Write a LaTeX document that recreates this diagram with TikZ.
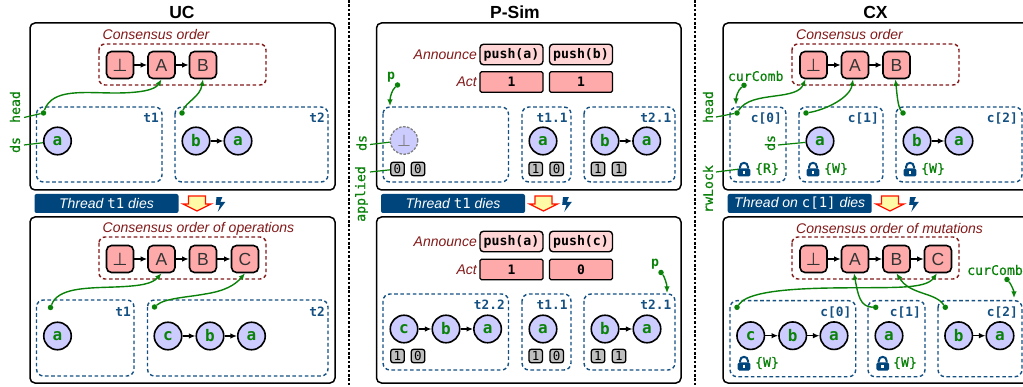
\documentclass[tikz,border=0pt]{standalone}
\usepackage{fontspec}
\setmainfont{Liberation Sans}
\setmonofont{DejaVu Sans Mono}
\newfontfamily\symfont{DejaVu Sans}
\newfontfamily\gmono[FakeBold=0.5]{DejaVu Sans Mono}
\usetikzlibrary{arrows.meta}
\definecolor{gr}{RGB}{10,130,10}
\definecolor{dred}{RGB}{130,25,25}
\definecolor{dblue}{RGB}{20,80,130}
\definecolor{navy}{RGB}{0,70,125}
\definecolor{rbox}{RGB}{255,170,170}
\definecolor{pbox}{RGB}{255,213,213}
\definecolor{cfill}{RGB}{204,204,255}
\tikzset{
 outerbox/.style={draw=black,line width=1.5pt,rounded corners=5pt},
 orderbox/.style={draw=dred,line width=1.4pt,rounded corners=6pt,dash pattern=on 3.6pt off 2.6pt},
 thr/.style={draw=dblue,line width=1.4pt,rounded corners=7pt,dash pattern=on 3.6pt off 2.6pt},
 ordn/.style={draw=black,fill=rbox,line width=1.6pt,rounded corners=5pt,minimum width=27pt,minimum height=27pt,inner sep=0pt,text=black!80,font=\fontsize{17.5}{17.5}\selectfont},
 circ/.style={circle,draw=black,fill=cfill,line width=1.6pt,minimum size=27.5pt,inner sep=0pt,text=gr,font=\fontsize{16}{16}\selectfont\ttfamily\bfseries},
 ghost/.style={circle,draw=black!50,fill=cfill,line width=1.3pt,dash pattern=on 2.5pt off 1.5pt,minimum size=27.5pt,inner sep=0pt,text=black!50,font=\fontsize{16}{16}\selectfont\symfont},
 sq/.style={draw=black,fill=black!25,line width=1.3pt,rounded corners=2.5pt,minimum size=13.5pt,inner sep=0pt,font=\fontsize{12.5}{12.5}\selectfont\ttfamily},
 ann/.style={draw=black,fill=pbox,line width=1.4pt,rounded corners=3.5pt,minimum width=63pt,minimum height=20.5pt,inner sep=0pt,font=\fontsize{13.2}{13.2}\selectfont\ttfamily\bfseries},
 actbox/.style={draw=black,fill=rbox,line width=1.4pt,rounded corners=1.5pt,minimum width=63pt,minimum height=20.5pt,inner sep=0pt,font=\fontsize{13}{13}\selectfont\ttfamily\bfseries},
 arr/.style={-{Latex[length=6.5pt,width=5.5pt]},line width=1.6pt,black},
 garr/.style={-{Latex[length=6.5pt,width=5.5pt]},line width=1.4pt,gr},
 gl/.style={gr,line width=1.2pt},
 gdot/.style={circle,fill=gr,minimum size=5.5pt,inner sep=0pt},
 glab/.style={text=gr,inner sep=0pt,font=\fontsize{13.2}{13.2}\selectfont\gmono},
 tlab/.style={text=dblue,inner sep=0pt,anchor=east,font=\fontsize{12.8}{12.8}\selectfont\ttfamily\bfseries},
 captxt/.style={text=dred,inner sep=0pt,font=\fontsize{14}{14}\selectfont\itshape},
 ttl/.style={inner sep=0pt,font=\fontsize{17.5}{17.5}\selectfont\bfseries},
 ban/.style={fill=navy,rounded corners=2pt,text=white,inner sep=0pt,minimum height=19pt,font=\fontsize{14}{14}\selectfont\itshape},
 lockp/.pic={
  \fill[navy,rounded corners=1.5pt] (-6.3,-1) rectangle (6.3,7);
  \draw[navy,line width=2pt] (-4,-1) -- (-4,-2.5) .. controls (-4,-8) and (4,-8) .. (4,-2.5) -- (4,-1);
  \fill[white] (-1.3,1.2) rectangle (1.3,4.4);
 },
 boltp/.pic={
  \fill[navy] (-3.5,-6.8) -- (2.3,-6.8) -- (0.3,-2) -- (5.3,-2) -- (-2.2,7.8) -- (0,0.8) -- (-4.3,0.8) -- cycle;
 },
 bigarr/.pic={
  \draw[draw=red!85!orange,fill=yellow!35,line width=1.3pt,line join=miter] (-8.5,-7.5) -- (8.5,-7.5) -- (8.5,0.5) -- (14,0.5) -- (0,7.5) -- (-14,0.5) -- (-8.5,0.5) -- cycle;
 }
}
\newcommand{\orderrow}[3]{% prefix, x0, y
 \node[ordn] (#1Z) at (#2,#3) {\symfont ⊥};
 \node[ordn] (#1A) at (#2+41.5,#3) {A};
 \node[ordn] (#1B) at (#2+83,#3) {B};
 \draw[arr] (#1Z) -- (#1A);
 \draw[arr] (#1A) -- (#1B);
}
\begin{document}
\begin{tikzpicture}[x=1pt,y=-1pt]
\useasboundingbox (0,0) rectangle (1023,387);
\clip (0,0) rectangle (1023,387);
\fill[white] (0,0) rectangle (1023,387);
% separators
\coordinate (s1a) at (349,0); \coordinate (s1b) at (349,387);
\coordinate (s2a) at (695,0); \coordinate (s2b) at (695,387);
\draw[line width=1.3pt,dash pattern=on 2.6pt off 1.8pt] (s1a) -- (s1b);
\draw[line width=1.3pt,dash pattern=on 2.6pt off 1.8pt] (s2a) -- (s2b);
% titles
\node[ttl] (tuc) at (182,12) {UC};
\node[ttl] (tps) at (515,12) {P-Sim};
\node[ttl] (tcx) at (875.5,12) {CX};
% outer boxes
\draw[outerbox] (30,23) rectangle (335,190);
\draw[outerbox] (30,217) rectangle (335,383);
\draw[outerbox] (376.5,23) rectangle (681,190);
\draw[outerbox] (376.5,217) rectangle (681,383);
\draw[outerbox] (723,23) rectangle (1040,190);
\draw[outerbox] (723,217) rectangle (1040,383);
% banners
\node[ban,minimum width=144pt] (b1) at (106.5,203.5) {Thread {\upshape\ttfamily t1} dies};
\node[ban,minimum width=144pt] (b2) at (453,203.5) {Thread {\upshape\ttfamily t1} dies};
\node[ban,minimum width=144pt] (b3) at (799.7,203.5) {Thread on {\upshape\ttfamily c[1]} dies};
\pic at (197,203.5) {bigarr}; \pic at (220,204) {boltp};
\pic at (543.5,203.5) {bigarr}; \pic at (566.5,204) {boltp};
\pic at (890,203.5) {bigarr}; \pic at (913.5,204) {boltp};

%%%%% UC top
\node[captxt,anchor=west] (c1) at (102.5,35) {Consensus order};
\draw[orderbox] (99,44) rectangle (266,85);
\orderrow{ua}{120}{65}
\draw[thr] (36.5,107) rectangle (162,182);
\draw[thr] (175,107) rectangle (328,182);
\node[tlab] (ut1) at (159,118) {t1};
\node[tlab] (ut2) at (325,118) {t2};
\node[circ] (uaa) at (57.5,141) {a};
\node[circ] (uab) at (196,141) {b};
\node[circ] (uac) at (238,141) {a};
\draw[arr] (uab) -- (uac);
\node[gdot] (ud1) at (43.5,113) {};
\node[gdot] (ud2) at (182,113) {};
\draw[garr] (ud1) .. controls (52,88) and (85,93) .. (115,93) .. controls (140,93) and (155,90) .. (uaA.south);
\draw[garr] (ud2) .. controls (186,102) and (200,97) .. (uaB.south);
\node[glab,rotate=90] (uh) at (15,107) {head};
\node[glab,rotate=90] (uds) at (15,145) {ds};
\coordinate (uhe) at (24,117.5); \coordinate (udse) at (24,145);
\draw[gl] (uhe) -- (ud1);
\draw[gl] (udse) -- (uaa);

%%%%% UC bottom
\node[captxt,anchor=west] (c2) at (102.5,228.5) {Consensus order of operations};
\draw[orderbox] (99,237) rectangle (266,279);
\orderrow{ub}{120}{259}
\node[ordn] (ubC) at (245,259) {C};
\draw[arr] (ubB) -- (ubC);
\draw[thr] (36.5,300) rectangle (134,376);
\draw[thr] (147.5,300) rectangle (328,376);
\node[tlab] (ubt1) at (131,312) {t1};
\node[tlab] (ubt2) at (325,312) {t2};
\node[circ] (ubaa) at (57.5,336) {a};
\node[circ] (ubc) at (168,336) {c};
\node[circ] (ubb) at (210,336) {b};
\node[circ] (uba2) at (251.5,336) {a};
\draw[arr] (ubc) -- (ubb);
\draw[arr] (ubb) -- (uba2);
\node[gdot] (ubd1) at (50.5,307.5) {};
\node[gdot] (ubd2) at (154.5,307) {};
\draw[garr] (ubd1) .. controls (58,288) and (85,288) .. (115,287) .. controls (140,286) and (152,284) .. (ubA.south);
\draw[garr] (ubd2) .. controls (165,298) and (190,297) .. (205,294) .. controls (225,291) and (235,285) .. (ubC.south);

%%%%% P-Sim top
\node[captxt,anchor=east] (pa1) at (477,54.5) {Announce};
\node[captxt,anchor=east] (pa2) at (477,82) {Act};
\node[ann] (pn1) at (511.5,54.5) {push(a)};
\node[ann] (pn2) at (581,54.5) {push(b)};
\node[actbox] (pv1) at (511.5,82) {1};
\node[actbox] (pv2) at (581,82) {1};
\draw[thr] (383,107) rectangle (508.5,182);
\draw[thr] (522,107) rectangle (571,182);
\draw[thr] (584,107) rectangle (675,182);
\node[tlab] (pt1) at (567.7,118) {t1.1};
\node[tlab] (pt2) at (671.5,118) {t2.1};
\node[ghost] (pg) at (404,140.5) {⊥};
\node[circ] (pa) at (543,141) {a};
\node[circ] (pb) at (605,141) {b};
\node[circ] (pc) at (646.7,141) {a};
\draw[arr] (pb) -- (pc);
\node[sq] (ps1) at (397.5,169) {0};
\node[sq] (ps2) at (418,169) {0};
\node[sq] (ps3) at (535.7,169) {1};
\node[sq] (ps4) at (556.7,169) {0};
\node[sq] (ps5) at (598,169) {1};
\node[sq] (ps6) at (619,169) {1};
\node[glab,font=\fontsize{13.2}{13.2}\selectfont\ttfamily\bfseries] (pp) at (391,77) {p};
\node[gdot] (ppd) at (397.5,85) {};
\coordinate (ppe) at (390,106);
\draw[garr] (ppd) .. controls (392,90) and (390,97) .. (ppe);
\node[glab,rotate=90] (pds) at (361.5,143) {ds};
\node[glab,rotate=90] (pap) at (361.5,194) {applied};
\coordinate (pdse) at (370,144.5); \coordinate (pape) at (370,172);
\draw[gl] (pdse) -- (pg);
\draw[gl] (pape) -- (ps1);

%%%%% P-Sim bottom
\node[captxt,anchor=east] (qa1) at (477,241.5) {Announce};
\node[captxt,anchor=east] (qa2) at (477,269.5) {Act};
\node[ann] (qn1) at (511.5,241.5) {push(a)};
\node[ann] (qn2) at (581,241.5) {push(c)};
\node[actbox] (qv1) at (511.5,269.5) {1};
\node[actbox] (qv2) at (581,269.5) {0};
\draw[thr] (383,294) rectangle (508.5,370);
\draw[thr] (522,294) rectangle (571,370);
\draw[thr] (584,294) rectangle (675,370);
\node[tlab] (qt0) at (505,305) {t2.2};
\node[tlab] (qt1) at (567.7,305) {t1.1};
\node[tlab] (qt2) at (671.5,305) {t2.1};
\node[circ] (qc) at (404,329) {c};
\node[circ] (qb) at (446,329) {b};
\node[circ] (qa) at (487.6,329) {a};
\node[circ] (qa1c) at (543,329) {a};
\node[circ] (qb2) at (605,329) {b};
\node[circ] (qa2c) at (647,329) {a};
\draw[arr] (qc) -- (qb);
\draw[arr] (qb) -- (qa);
\draw[arr] (qb2) -- (qa2c);
\node[sq] (qs1) at (397.5,356) {1};
\node[sq] (qs2) at (418,356) {0};
\node[sq] (qs3) at (535.7,356) {1};
\node[sq] (qs4) at (556.7,356) {0};
\node[sq] (qs5) at (598,356) {1};
\node[sq] (qs6) at (619,356) {1};
\node[glab,font=\fontsize{13.2}{13.2}\selectfont\ttfamily\bfseries] (qp) at (655,264) {p};
\node[gdot] (qpd) at (661,272.5) {};
\coordinate (qpe) at (667,293);
\draw[garr] (qpd) .. controls (664,276) and (667,284) .. (qpe);

%%%%% CX top
\node[captxt,anchor=west] (c3) at (796,35) {Consensus order};
\draw[orderbox] (792,44) rectangle (959,85);
\orderrow{ca}{813.5}{65}
\draw[thr] (730,107) rectangle (786,182);
\draw[thr] (799,107) rectangle (883,182);
\draw[thr] (896,107) rectangle (1022,182);
\node[tlab] (ct0) at (782,118) {c[0]};
\node[tlab] (ct1) at (879,118) {c[1]};
\node[tlab] (ct2) at (1018,118) {c[2]};
\node[circ] (caa) at (820,141) {a};
\node[circ] (cab) at (917,141) {b};
\node[circ] (cac) at (959,141) {a};
\draw[arr] (cab) -- (cac);
\node[gdot] (cd0) at (737,113) {};
\node[gdot] (cd1) at (806,113) {};
\node[gdot] (cd2) at (903,113) {};
\draw[garr] (cd0) .. controls (745,100) and (760,98) .. (775,96) .. controls (790,94) and (800,92) .. ([xshift=-8pt]caZ.south);
\draw[garr] (cd1) .. controls (825,110) and (850,98) .. ([xshift=-2pt]caA.south);
\draw[garr] (cd2) .. controls (898,107) and (897,95) .. ([xshift=-1pt]caB.south);
\node[glab] (ccc) at (755.7,76) {curComb};
\node[gdot] (ccd) at (744,85.3) {};
\coordinate (cce) at (736,105);
\draw[garr] (ccd) .. controls (738,90) and (736,97) .. (cce);
\node[glab,rotate=90] (chd) at (708,107) {head};
\coordinate (chde) at (716,117);
\draw[gl] (chde) -- (cd0);
\node[glab,rotate=90] (cds) at (770,143) {ds};
\coordinate (cdse) at (778,145);
\draw[gl] (cdse) -- (caa);
\node[glab,rotate=90] (crw) at (708,189) {rwLock};
\coordinate (crwe) at (716,172);
\coordinate (clk0) at (740,169);
\draw[gl] (crwe) -- (clk0);
\pic at (744,169.5) {lockp};
\pic at (813,169.5) {lockp};
\pic at (910,169.5) {lockp};
\node[glab] (cw0) at (767,169) {\{R\}};
\node[glab] (cw1) at (836,169) {\{W\}};
\node[glab] (cw2) at (933,169) {\{W\}};

%%%%% CX bottom
\node[captxt,anchor=west] (c4) at (796,228.5) {Consensus order of mutations};
\draw[orderbox] (792,237) rectangle (959,279);
\orderrow{cb}{813.5}{259}
\node[ordn] (cbC) at (938,259) {C};
\draw[arr] (cbB) -- (cbC);
\draw[thr] (730,300.7) rectangle (855.7,376.7);
\draw[thr] (868,300.7) rectangle (925,376.7);
\draw[thr] (938,300.7) rectangle (1022,376.7);
\node[tlab] (dt0) at (851.5,312) {c[0]};
\node[tlab] (dt1) at (921,312) {c[1]};
\node[tlab] (dt2) at (1018,312) {c[2]};
\node[circ] (dc) at (750.7,335.7) {c};
\node[circ] (db) at (792.7,335.7) {b};
\node[circ] (da) at (834,335.7) {a};
\node[circ] (da1) at (889,335.7) {a};
\node[circ] (db2) at (958.7,335.7) {b};
\node[circ] (da2) at (1000,335.7) {a};
\draw[arr] (dc) -- (db);
\draw[arr] (db) -- (da);
\draw[arr] (db2) -- (da2);
\node[gdot] (dd0) at (737,307.3) {};
\node[gdot] (dd1) at (875.7,307.3) {};
\node[gdot] (dd2) at (945.3,307.3) {};
\draw[garr] (dd0) .. controls (745,295) and (770,289) .. (830,288) .. controls (890,287) and (925,290) .. ([xshift=-1pt]cbC.south);
\draw[garr] (dd1) .. controls (860,307) and (858,295) .. ([xshift=-1pt]cbA.south);
\draw[garr] (dd2) .. controls (935,292) and (910,295) .. (cbB.south);
\node[glab,anchor=west] (dcc) at (967,270) {curComb};
\node[gdot] (dcd) at (1007,279.5) {};
\coordinate (dce) at (1014,298);
\draw[garr] (dcd) .. controls (1011,284) and (1014,291) .. (dce);
\pic at (744,363.5) {lockp};
\pic at (882.7,363.5) {lockp};
\node[glab] (dw0) at (767,363) {\{W\}};
\node[glab] (dw1) at (905,363) {\{W\}};
\end{tikzpicture}
\end{document}
